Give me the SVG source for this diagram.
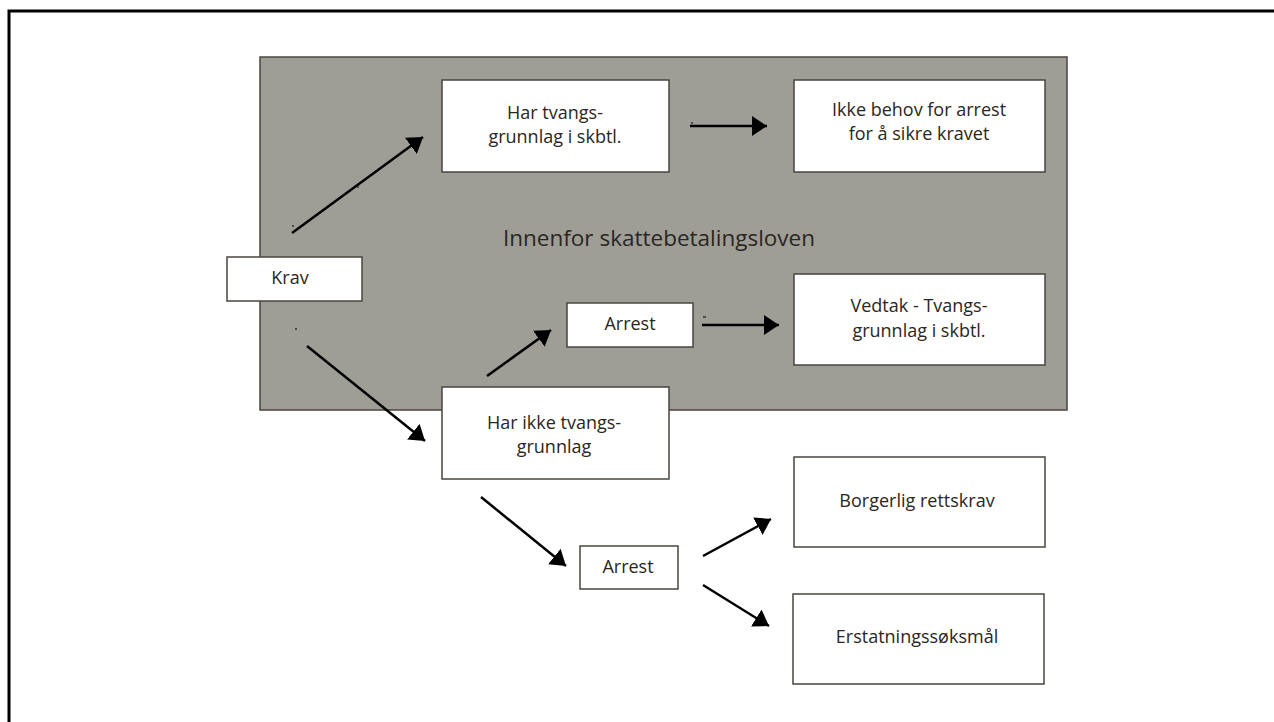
<svg xmlns="http://www.w3.org/2000/svg" width="1274" height="722" viewBox="0 0 1274 722">
<defs>
<style>
.box{fill:#ffffff;stroke:#4a4540;stroke-width:1.5}
.panel{fill:#9f9e96;stroke:#4a4540;stroke-width:1.5}
.t{font-family:"Open Sans","Noto Sans",sans-serif;font-size:18px;fill:#2b2622;text-anchor:middle}
.title{font-family:"Open Sans","Noto Sans",sans-serif;font-size:22.5px;fill:#2b2622;text-anchor:middle}
.arr{stroke:#000;stroke-width:2.5;fill:none;marker-end:url(#ah)}
.tick{stroke:#000;stroke-width:1;fill:none}
</style>
<marker id="ah" markerUnits="userSpaceOnUse" markerWidth="16" markerHeight="20" refX="15" refY="10" orient="auto" viewBox="0 0 16 20">
<path d="M0,0 L15,10 L0,20 z" fill="#000"/>
</marker>
</defs>
<rect width="1274" height="722" fill="#ffffff"/>
<path d="M9,722 V11 H1274" fill="none" stroke="#000" stroke-width="3"/>
<g id="panel">
<rect class="panel" x="260" y="57" width="807" height="353"/>
<text class="title" x="659" y="246">Innenfor skattebetalingsloven</text>
</g>
<g id="krav">
<rect class="box" x="227" y="257" width="135" height="44"/>
<text class="t" x="290" y="284">Krav</text>
</g>
<g id="har-tvang">
<rect class="box" x="442" y="80" width="227" height="92"/>
<text class="t" x="555" y="119">Har tvangs-</text>
<text class="t" x="555" y="143">grunnlag i skbtl.</text>
</g>
<g id="ikke-behov">
<rect class="box" x="794" y="80" width="251" height="92"/>
<text class="t" x="919" y="116">Ikke behov for arrest</text>
<text class="t" x="919" y="140">for å sikre kravet</text>
</g>
<g id="arrest1">
<rect class="box" x="567" y="303" width="126" height="44"/>
<text class="t" x="630" y="330">Arrest</text>
</g>
<g id="vedtak">
<rect class="box" x="794" y="274" width="251" height="91"/>
<text class="t" x="919" y="312">Vedtak - Tvangs-</text>
<text class="t" x="919" y="337">grunnlag i skbtl.</text>
</g>
<g id="har-ikke">
<rect class="box" x="442" y="387" width="227" height="92"/>
<text class="t" x="554" y="429">Har ikke tvangs-</text>
<text class="t" x="554" y="453">grunnlag</text>
</g>
<g id="arrest2">
<rect class="box" x="580" y="546" width="98" height="43"/>
<text class="t" x="628" y="573">Arrest</text>
</g>
<g id="borgerlig">
<rect class="box" x="794" y="457" width="251" height="90"/>
<text class="t" x="917" y="507">Borgerlig rettskrav</text>
</g>
<g id="erstatning">
<rect class="box" x="793" y="594" width="251" height="90"/>
<text class="t" x="917" y="643">Erstatningssøksmål</text>
</g>
<g id="connectors">
<line class="arr" x1="292" y1="233" x2="423" y2="137"/>
<line class="arr" x1="690" y1="126" x2="767" y2="126"/>
<line class="arr" x1="307" y1="346" x2="425" y2="441"/>
<line class="arr" x1="487" y1="376" x2="551" y2="330"/>
<line class="arr" x1="702" y1="325" x2="779" y2="325"/>
<line class="arr" x1="481" y1="497" x2="566" y2="566"/>
<line class="arr" x1="703" y1="556" x2="771" y2="519"/>
<line class="arr" x1="703" y1="585" x2="769" y2="626"/>
<line class="tick" x1="292" y1="226" x2="294" y2="226"/>
<line class="tick" x1="357" y1="187" x2="359" y2="187"/>
<line class="tick" x1="295" y1="329" x2="297" y2="329"/>
<line class="tick" x1="703" y1="317" x2="706" y2="317"/>
<line class="tick" x1="691" y1="123" x2="693" y2="123"/>
</g>
</svg>
